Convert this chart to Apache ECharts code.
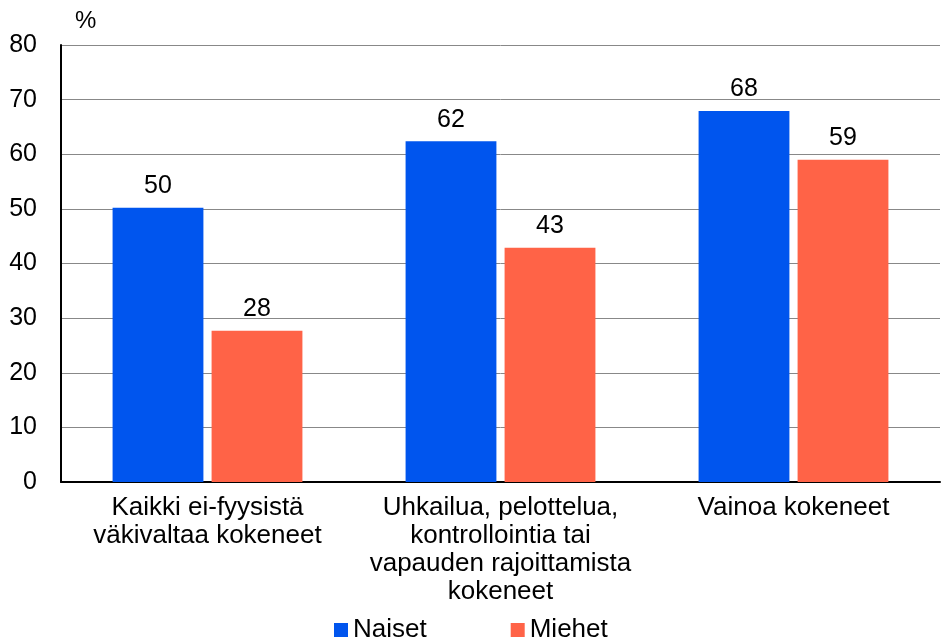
<!DOCTYPE html>
<html>
<head>
<meta charset="utf-8">
<script src="https://cdn.jsdelivr.net/npm/echarts@6/dist/echarts.min.js"></script>
<style>
  html, body { margin: 0; padding: 0; background: #fff; }
  #chart { width: 941px; height: 642px; }
</style>
</head>
<body>
<div id="chart"></div>
<script>
const categories = [
  "Kaikki ei-fyysistä\nväkivaltaa kokeneet",
  "Uhkailua, pelottelua,\nkontrollointia tai\nvapauden rajoittamista\nkokeneet",
  "Vainoa kokeneet",
];
const naiset = [50.2, 62.4, 67.9];
const miehet = [27.7, 42.9, 59.0];
const seriesNames = ["Naiset", "Miehet"];
const colors = ["#0055EE", "#FF6347"];

const chart = echarts.init(document.getElementById("chart"));

const font = "Liberation Sans, Arial, sans-serif";

function barSeries(name, data, color) {
  return {
    name,
    type: "bar",
    data,
    barWidth: "31%",
    barGap: "9%",
    itemStyle: { color },
    label: {
      show: true,
      position: "top",
      distance: 9,
      color: "#000",
      fontFamily: font,
      fontSize: 25,
      formatter: (p) => Math.round(p.value),
    },
  };
}

chart.setOption({
  animation: false,
  textStyle: { fontFamily: font },
  grid: {
    left: 61,
    right: 1,
    top: 45,
    bottom: 160,
  },
  legend: {
    bottom: -6,
    left: 329,
    itemGap: 84,
    itemWidth: 14,
    itemHeight: 14,
    icon: "rect",
    textStyle: { fontSize: 26, color: "#000", fontFamily: font },
    data: seriesNames,
  },
  xAxis: {
    type: "category",
    data: categories,
    axisLine: { lineStyle: { color: "#000", width: 2 } },
    axisTick: { show: false },
    axisLabel: {
      color: "#000",
      fontSize: 26,
      lineHeight: 28,
      margin: 12,
      interval: 0,
    },
  },
  yAxis: {
    type: "value",
    min: 0,
    max: 80,
    interval: 10,
    name: "%",
    nameGap: 12,
    nameTextStyle: { color: "#000", fontSize: 24, align: "left", padding: [0, 0, 0, 14] },
    axisLine: { show: true, lineStyle: { color: "#000", width: 2 } },
    axisTick: { show: false },
    axisLabel: { color: "#000", fontSize: 25, margin: 24 },
    splitLine: { lineStyle: { color: "#888", width: 1 } },
  },
  series: [
    barSeries(seriesNames[0], naiset, colors[0]),
    barSeries(seriesNames[1], miehet, colors[1]),
  ],
});
</script>
</body>
</html>
